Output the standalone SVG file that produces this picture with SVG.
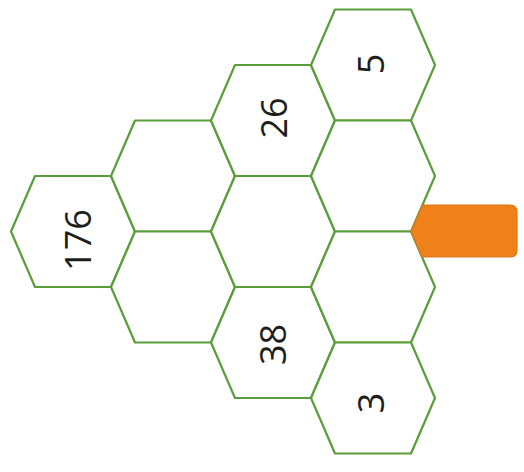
<svg xmlns="http://www.w3.org/2000/svg" width="524" height="472" viewBox="0 0 524 472">
<style>
.hex{fill:#ffffff;stroke:#5b9d3b;stroke-width:2.2;stroke-linejoin:round}
.num{font-family:"Open Sans","Liberation Sans",sans-serif;font-size:36px;fill:#1e1e1e;text-anchor:middle;dominant-baseline:central}
</style>
<rect width="524" height="472" fill="#ffffff"/>
<g id="hex-c0-r0"><polygon class="hex" points="11,231.5 35,176 111,176 135,231.5 111,287 35,287"/>
<text class="num" transform="translate(77,240) rotate(-90)">176</text></g>
<g id="hex-c1-r0"><polygon class="hex" points="111,176 135,120.5 211,120.5 235,176 211,231.5 135,231.5"/></g>
<g id="hex-c1-r1"><polygon class="hex" points="111,287 135,231.5 211,231.5 235,287 211,342.5 135,342.5"/></g>
<g id="hex-c2-r0"><polygon class="hex" points="211,120.5 235,65 311,65 335,120.5 311,176 235,176"/>
<text class="num" transform="translate(273,118) rotate(-90)">26</text></g>
<g id="hex-c2-r1"><polygon class="hex" points="211,231.5 235,176 311,176 335,231.5 311,287 235,287"/></g>
<g id="hex-c2-r2"><polygon class="hex" points="211,342.5 235,287 311,287 335,342.5 311,398 235,398"/>
<text class="num" transform="translate(272,344.5) rotate(-90)">38</text></g>
<g id="hex-c3-r0"><polygon class="hex" points="311,65 335,9.5 411,9.5 435,65 411,120.5 335,120.5"/>
<text class="num" transform="translate(370.5,64) rotate(-90)">5</text></g>
<g id="hex-c3-r1"><polygon class="hex" points="311,176 335,120.5 411,120.5 435,176 411,231.5 335,231.5"/></g>
<g id="hex-c3-r2"><polygon class="hex" points="311,287 335,231.5 411,231.5 435,287 411,342.5 335,342.5"/></g>
<g id="hex-c3-r3"><polygon class="hex" points="311,398 335,342.5 411,342.5 435,398 411,453.5 335,453.5"/>
<text class="num" transform="translate(370.5,403) rotate(-90)">3</text></g>
<g id="orange-tab"><path d="M411,231.5 L422.5,205 L510,205 Q517,205 517,212 L517,250 Q517,257 510,257 L422,257 Z" fill="#f08019" stroke="#d9761c" stroke-width="1.2"/></g>
<g id="connectors"></g>
</svg>
